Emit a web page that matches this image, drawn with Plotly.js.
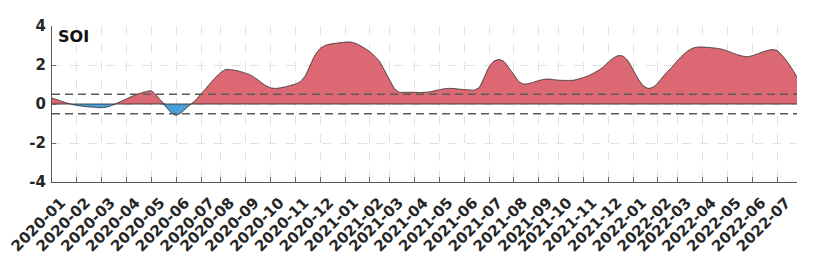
<!DOCTYPE html>
<html>
<head>
<meta charset="utf-8">
<script src="https://cdn.plot.ly/plotly-3.0.1.min.js"></script>
<style>html,body{margin:0;padding:0;background:#fff;}#chart{width:821px;height:261px;}</style>
</head>
<body>
<div id="chart"></div>
<script>
// SOI values, one per sample (sample index on the x axis)
const soiValues = [
 0.30, 0.22, 0.13, 0.05,-0.02,-0.07,-0.11,-0.14,-0.16,-0.18,
-0.19,-0.16,-0.08, 0.03, 0.15, 0.26, 0.38, 0.48, 0.57, 0.64,
 0.68, 0.45, 0.15,-0.15,-0.45,-0.58,-0.45,-0.22, 0.00, 0.22,
 0.52, 0.80, 1.10, 1.38, 1.62, 1.77, 1.76, 1.72, 1.66, 1.58,
 1.48, 1.32, 1.13, 0.95, 0.83, 0.80, 0.83, 0.88, 0.95, 1.02,
 1.15, 1.45, 2.00, 2.52, 2.85, 3.00, 3.07, 3.11, 3.14, 3.17,
 3.18, 3.12, 3.00, 2.85, 2.68, 2.45, 2.16, 1.70, 1.22, 0.78,
 0.60, 0.60, 0.60, 0.60, 0.59, 0.60, 0.62, 0.68, 0.73, 0.78,
 0.80, 0.79, 0.76, 0.74, 0.72, 0.71, 0.85, 1.35, 1.90, 2.20,
 2.28, 2.18, 1.85, 1.50, 1.15, 1.02, 1.05, 1.12, 1.20, 1.26,
 1.28, 1.25, 1.22, 1.21, 1.21, 1.22, 1.28, 1.36, 1.45, 1.58,
 1.72, 1.90, 2.15, 2.35, 2.48, 2.45, 2.20, 1.75, 1.30, 0.95,
 0.80, 0.86, 1.08, 1.40, 1.68, 1.95, 2.25, 2.50, 2.72, 2.86,
 2.92, 2.92, 2.90, 2.88, 2.85, 2.80, 2.72, 2.62, 2.53, 2.46,
 2.42, 2.48, 2.57, 2.66, 2.74, 2.79, 2.74, 2.50, 2.18, 1.80,
 1.38
];
// sample index at which each month starts, and its label
const monthStartIndex = [0,5,10,15,20,25,30,34,39,44,49,54,59,64,68,73,78,83,88,93,98,102,107,112,117,122,126,131,136,141,146];
const monthLabels = ["2020-01","2020-02","2020-03","2020-04","2020-05","2020-06","2020-07","2020-08","2020-09","2020-10","2020-11","2020-12",
 "2021-01","2021-02","2021-03","2021-04","2021-05","2021-06","2021-07","2021-08","2021-09","2021-10","2021-11","2021-12",
 "2022-01","2022-02","2022-03","2022-04","2022-05","2022-06","2022-07"];
const thresholds = [0.5, -0.5];
const seriesName = "SOI";

const idx = soiValues.map((_, i) => i);
const pos = soiValues.map(v => Math.max(v, 0));
const neg = soiValues.map(v => Math.min(v, 0));
const lastIdx = idx[idx.length - 1];

const traces = [
  {x: idx, y: pos, type: 'scatter', mode: 'lines', fill: 'tozeroy', fillcolor: 'rgb(220,104,116)',
   line: {width: 0, shape: 'spline', smoothing: 0.6}, hoverinfo: 'skip'},
  {x: idx, y: neg, type: 'scatter', mode: 'lines', fill: 'tozeroy', fillcolor: 'rgb(72,158,214)',
   line: {width: 0, shape: 'spline', smoothing: 0.6}, hoverinfo: 'skip'},
  {x: idx, y: soiValues, type: 'scatter', mode: 'lines', line: {color: '#3a3434', width: 0.9, shape: 'spline', smoothing: 0.6}},
  {x: [0, lastIdx], y: [0, 0], type: 'scatter', mode: 'lines', line: {color: '#3a3434', width: 0.9}}
];
thresholds.forEach(t => traces.push({x: [0, lastIdx], y: [t, t], type: 'scatter', mode: 'lines',
  line: {color: '#5a5a5a', width: 1.3, dash: '8px,5px'}}));

const tickFont = {family: 'DejaVu Sans', size: 15, color: '#262626', weight: 'bold'};
const layout = {
  width: 821, height: 261,
  margin: {l: 52, r: 24, t: 26, b: 79},
  paper_bgcolor: '#fff', plot_bgcolor: '#fff',
  showlegend: false,
  font: {family: 'DejaVu Sans'},
  xaxis: {
    range: [0, lastIdx], tickmode: 'array', tickvals: monthStartIndex, ticktext: monthLabels,
    tickangle: -45, tickfont: tickFont,
    ticklabelshift: 9, ticklabelstandoff: 5,
    showgrid: true, gridcolor: '#e2e2e2', griddash: 'dash', gridwidth: 1,
    showline: true, linecolor: '#555', linewidth: 1,
    ticks: 'inside', ticklen: 5, tickcolor: '#666', zeroline: false
  },
  yaxis: {
    range: [-4, 4], tickvals: [-4, -2, 0, 2, 4], ticktext: ['-4', '-2', '0', '2', '4'],
    tickfont: tickFont, ticklabelstandoff: 2,
    showgrid: true, gridcolor: '#e2e2e2', griddash: 'dash', gridwidth: 1,
    showline: true, linecolor: '#555', linewidth: 1,
    ticks: 'inside', ticklen: 4, tickcolor: '#666', zeroline: false
  },
  annotations: [{
    text: '<b>' + seriesName + '</b>', xref: 'paper', yref: 'paper', x: 0.006, y: 0.93,
    xanchor: 'left', yanchor: 'middle', showarrow: false,
    font: {family: 'DejaVu Sans', size: 16, color: '#111'}
  }]
};
Plotly.newPlot('chart', traces, layout, {staticPlot: true, displayModeBar: false});
</script>
</body>
</html>
